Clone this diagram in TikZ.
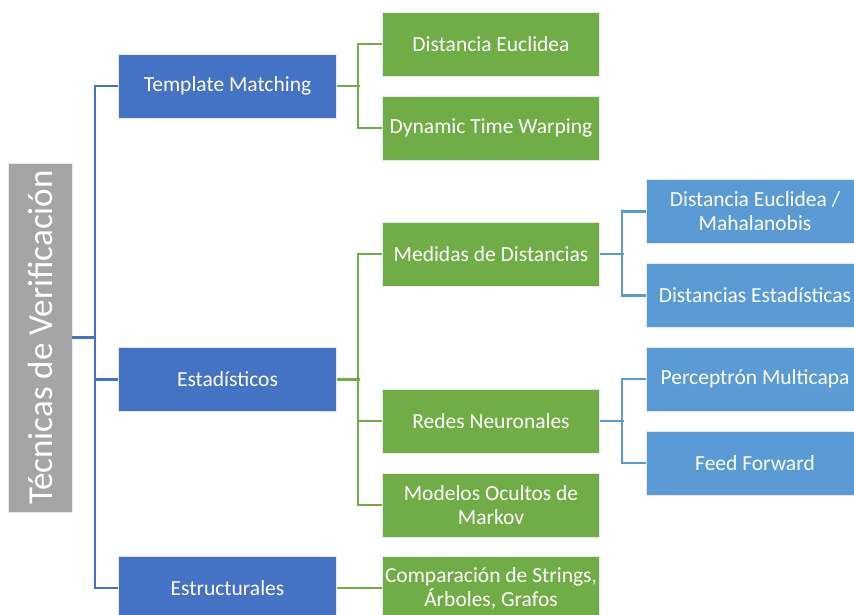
\documentclass[tikz,border=0pt]{standalone}
\usepackage{fontspec}
\setmainfont{Carlito}
\definecolor{dblue}{HTML}{4472C4}
\definecolor{dgreen}{HTML}{70AD47}
\definecolor{lblue}{HTML}{5B9BD5}
\definecolor{dgray}{HTML}{A5A5A5}
\definecolor{edge}{HTML}{E8E8E8}
\begin{document}
\begin{tikzpicture}[x=1pt,y=-1pt,
  box/.style={draw=edge,line width=0.8pt,text=white,align=center,inner sep=1pt,
    minimum height=64pt,font=\fontsize{21.5}{24}\selectfont},
  lvone/.style={box,fill=dblue,minimum width=218pt},
  lvtwo/.style={box,fill=dgreen,minimum width=217pt},
  lvthree/.style={box,fill=lblue,minimum width=217pt},
  bl/.style={dblue,line width=2.2pt},
  gl/.style={dgreen,line width=2.2pt},
  ll/.style={lblue,line width=2.2pt}]
\useasboundingbox (0,0) rectangle (854,615);
\clip (0,0) rectangle (854,615);
\fill[white] (0,0) rectangle (854,615);
% root
\node[draw=edge,line width=0.8pt,fill=dgray,minimum width=349pt,minimum height=64pt,rotate=90,
  text=white,font=\fontsize{35}{38}\selectfont] (root) at (40,337.5) {Técnicas de Verificación};
% level 1
\node[lvone] (tm) at (227.5,86) {Template Matching};
\node[lvone] (es) at (227.5,379.5) {Estadísticos};
\node[lvone] (et) at (227.5,588) {Estructurales};
% level 2
\node[lvtwo] (de) at (491,44) {Distancia Euclidea};
\node[lvtwo] (dt) at (491,128) {Dynamic Time Warping};
\node[lvtwo] (md) at (491,254) {Medidas de Distancias};
\node[lvtwo] (rn) at (491,421) {Redes Neuronales};
\node[lvtwo] (mo) at (491,505) {Modelos Ocultos de\\Markov};
\node[lvtwo] (cs) at (491,588) {Comparación de Strings,\\Árboles, Grafos};
% level 3
\node[lvthree] (dm) at (755,211.5) {Distancia Euclidea /\\Mahalanobis};
\node[lvthree] (ds) at (755,295.5) {Distancias Estadísticas};
\node[lvthree] (pm) at (755,379) {Perceptrón Multicapa};
\node[lvthree] (ff) at (755,463) {Feed Forward};
% connectors level 0-1
\draw[bl] (root.south) -- ++(24,0);
\draw[bl] (tm.west) -- ++(-23,0) |- (es.west);
\draw[bl] (es.west) -- ++(-23,0) |- (et.west);
% level 1-2
\draw[gl] (tm.east) -- ++(23,0);
\draw[gl] (de.west) -- ++(-24,0) |- (dt.west);
\draw[gl] (es.east) -- ++(23,0);
\draw[gl] (md.west) -- ++(-24,0) |- (rn.west);
\draw[gl] (rn.west) -- ++(-24,0) |- (mo.west);
\draw[gl] (et.east) -- (cs.west);
% level 2-3
\draw[ll] (md.east) -- ++(24,0);
\draw[ll] (dm.west) -- ++(-24,0) |- (ds.west);
\draw[ll] (rn.east) -- ++(24,0);
\draw[ll] (pm.west) -- ++(-24,0) |- (ff.west);
\end{tikzpicture}
\end{document}
